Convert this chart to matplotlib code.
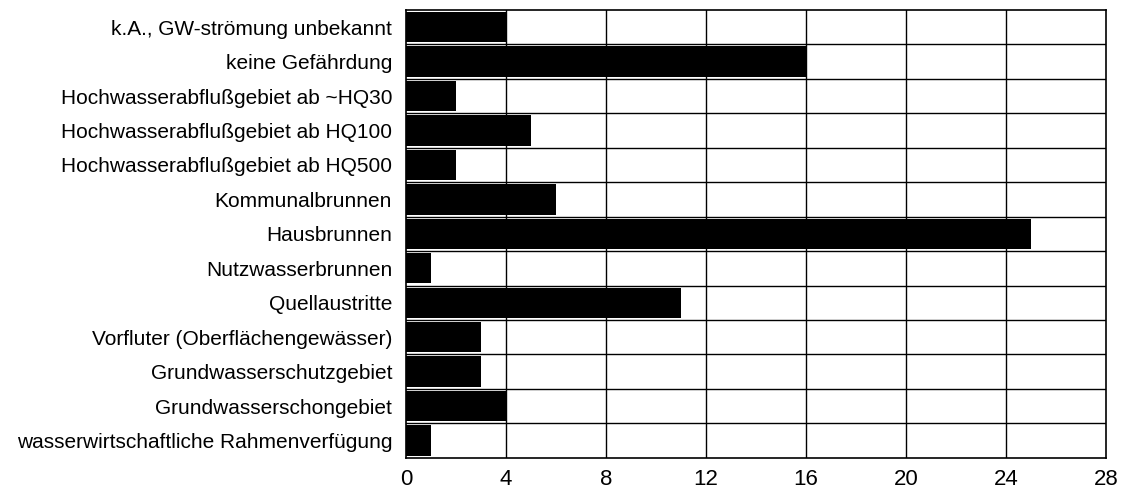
import matplotlib
matplotlib.use("Agg")
from matplotlib import pyplot as plt

# Anzahl der Nennungen je Kategorie (von oben nach unten)
categories = [
    "k.A., GW-strömung unbekannt",
    "keine Gefährdung",
    "Hochwasserabflußgebiet ab ~HQ30",
    "Hochwasserabflußgebiet ab HQ100",
    "Hochwasserabflußgebiet ab HQ500",
    "Kommunalbrunnen",
    "Hausbrunnen",
    "Nutzwasserbrunnen",
    "Quellaustritte",
    "Vorfluter (Oberflächengewässer)",
    "Grundwasserschutzgebiet",
    "Grundwasserschongebiet",
    "wasserwirtschaftliche Rahmenverfügung",
]
counts = [4, 16, 2, 5, 2, 6, 25, 1, 11, 3, 3, 4, 1]
xticks = [0, 4, 8, 12, 16, 20, 24, 28]

plt.rcParams["font.family"] = ["Liberation Sans", "DejaVu Sans"]

fig = plt.figure(figsize=(11.23, 4.97), dpi=100)
ax = fig.add_axes([0.3615, 0.079, 0.6235, 0.901])

n = len(categories)
ypos = list(range(n))[::-1]
ax.barh(ypos, counts, height=0.88, color="black", zorder=3)

ax.set_xlim(0, 28)
ax.set_ylim(-0.5, n - 0.5)
ax.set_xticks(xticks)
ax.set_xticklabels([str(t) for t in xticks], fontsize=16)
ax.set_yticks(ypos)
ax.set_yticklabels(categories, fontsize=15)

# Gitterlinien: senkrecht bei den Ticks, waagerecht zwischen den Zeilen
for t in xticks[1:-1]:
    ax.axvline(t, color="black", linewidth=1.0, zorder=2)
for k in range(n - 1):
    ax.axhline(k + 0.5, color="black", linewidth=1.0, zorder=4)

for s in ax.spines.values():
    s.set_linewidth(1.2)
ax.tick_params(axis="both", length=0)
ax.tick_params(axis="x", pad=8)
ax.tick_params(axis="y", pad=10)

fig.savefig("out.png", dpi=100)
